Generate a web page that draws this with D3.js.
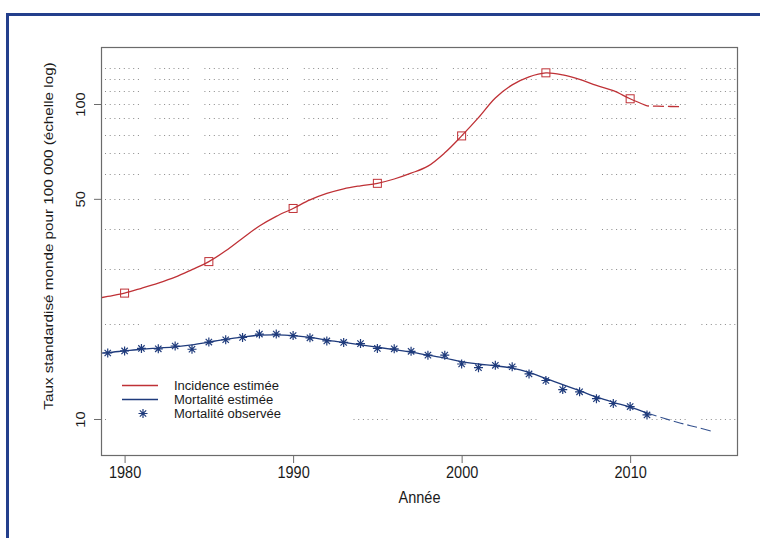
<!DOCTYPE html>
<html>
<head>
<meta charset="utf-8">
<script src="https://cdn.jsdelivr.net/npm/d3@7/dist/d3.min.js"></script>
<style>
  html, body { margin: 0; padding: 0; background: #fff; }
  svg { display: block; font-family: "Liberation Sans", Arial, Helvetica, sans-serif; }
</style>
</head>
<body>
<div id="chart"></div>
<script>
// Incidence and mortality, world-standardised rates per 100 000 (log scale)
const xTicks = [1980, 1990, 2000, 2010];
const yTicks = [10, 50, 100];
const gridValues = [10, 20, 30, 40, 50, 60, 70, 80, 90, 100, 110, 120, 130];

// Estimated incidence (smoothed), 1978-2011
const incYears = [1978, 1979, 1980, 1981, 1982, 1983, 1984, 1985, 1986, 1987, 1988, 1989,
  1990, 1991, 1992, 1993, 1994, 1995, 1996, 1997, 1998, 1999, 2000, 2001, 2002, 2003,
  2004, 2005, 2006, 2007, 2008, 2009, 2010, 2011];
const incEst = [23.9, 24.5, 25.1, 26.0, 27.0, 28.2, 29.8, 31.6, 34.2, 37.5, 41.0, 44.0,
  46.6, 49.6, 52.0, 53.8, 55.0, 56.0, 57.8, 60.3, 63.5, 70.0, 79.2, 90.5, 104.5, 115.0,
  122.0, 125.6, 123.8, 119.8, 114.5, 110.3, 103.9, 98.6];
// Incidence at the five-year marks
const incMarkYears = [1980, 1985, 1990, 1995, 2000, 2005, 2010];
const incMarks = [25.1, 31.6, 46.6, 56.0, 79.2, 125.6, 103.9];
// Projected incidence
const incProjYears = [2011, 2012, 2013];
const incProj = [98.6, 98.3, 98.1];

// Estimated mortality (smoothed), 1978-2011
const mortYears = incYears;
const mortEst = [16.1, 16.25, 16.45, 16.65, 16.8, 16.95, 17.2, 17.55, 17.9, 18.2, 18.45, 18.5,
  18.4, 18.15, 17.8, 17.5, 17.2, 16.9, 16.6, 16.3, 15.95, 15.6, 15.2, 14.95, 14.75, 14.5,
  14.05, 13.45, 12.85, 12.3, 11.75, 11.3, 10.9, 10.45];
// Observed mortality, 1979-2011
const mortObsYears = [1979, 1980, 1981, 1982, 1983, 1984, 1985, 1986, 1987, 1988, 1989,
  1990, 1991, 1992, 1993, 1994, 1995, 1996, 1997, 1998, 1999, 2000, 2001, 2002, 2003,
  2004, 2005, 2006, 2007, 2008, 2009, 2010, 2011];
const mortObs = [16.2, 16.45, 16.75, 16.7, 17.05, 16.65, 17.55, 17.85, 18.15, 18.6, 18.6,
  18.4, 18.1, 17.7, 17.5, 17.35, 16.75, 16.7, 16.4, 15.95, 15.95, 14.95, 14.55, 14.8, 14.65,
  13.9, 13.25, 12.4, 12.2, 11.6, 11.2, 10.95, 10.3];
// Projected mortality
const mortProjYears = [2011, 2012, 2013, 2014, 2015];
const mortProj = [10.45, 10.05, 9.7, 9.4, 9.1];

const legendItems = ["Incidence estimée", "Mortalité estimée", "Mortalité observée"];

const W = 760, H = 538;
const plot = { left: 101, right: 738, top: 47, bottom: 456 };
const red = "#bf3136", navy = "#1f3b7c", textCol = "#1a1a1a", axisCol = "#6b6b6b";
const stretch = 1.13;   // axis text is drawn slightly tall and narrow

const svg = d3.select("#chart").append("svg").attr("width", W).attr("height", H);
svg.append("rect").attr("width", W).attr("height", H).attr("fill", "#fff");

// outer frame
svg.append("rect")
  .attr("x", 7.5).attr("y", 14.5).attr("width", W + 20).attr("height", H + 20)
  .attr("fill", "none").attr("stroke", "#233f8c").attr("stroke-width", 3);

const x = d3.scaleLinear().domain([1978.6, 2016.4]).range([plot.left, plot.right]);
const y = d3.scaleLog().domain([7.63, 151.7]).range([plot.bottom, plot.top]);

svg.append("clipPath").attr("id", "plotClip")
  .append("rect").attr("x", plot.left).attr("y", plot.top)
  .attr("width", plot.right - plot.left).attr("height", plot.bottom - plot.top);

// dotted grid rows, in short runs
const period = 49.7;
const dash = d3.range(7).map(() => "1,3.7").join(",") + ",1," + (period - 8 - 7 * 3.7).toFixed(2);
svg.append("g").selectAll("line").data(gridValues).join("line")
  .attr("x1", 105).attr("x2", plot.right - 1)
  .attr("y1", d => Math.round(y(d)) + 0.5).attr("y2", d => Math.round(y(d)) + 0.5)
  .attr("stroke", "#8a8a8a").attr("stroke-width", 1)
  .attr("stroke-dasharray", dash);

const g = svg.append("g").attr("clip-path", "url(#plotClip)");
const line = (xs, vs) => d3.line().curve(d3.curveCatmullRom.alpha(0.5))
  .x((d, i) => x(xs[i])).y(d => y(d))(vs);

// incidence
g.append("path").attr("d", line(incYears, incEst))
  .attr("fill", "none").attr("stroke", red).attr("stroke-width", 1.3);
g.append("path").attr("d", line(incProjYears, incProj))
  .attr("fill", "none").attr("stroke", red).attr("stroke-width", 1.3)
  .attr("stroke-dasharray", "11,4").attr("stroke-dashoffset", 9);
g.append("g").selectAll("rect").data(incMarks).join("rect")
  .attr("x", (d, i) => x(incMarkYears[i]) - 4).attr("y", d => y(d) - 4)
  .attr("width", 8).attr("height", 8)
  .attr("fill", "none").attr("stroke", red).attr("stroke-width", 1);

// mortality
g.append("path").attr("d", line(mortYears, mortEst))
  .attr("fill", "none").attr("stroke", navy).attr("stroke-width", 1.3);
g.append("path").attr("d", line(mortProjYears, mortProj))
  .attr("fill", "none").attr("stroke", "#34518e").attr("stroke-width", 1.1)
  .attr("stroke-dasharray", "10,4");

const star = (cx, cy, r) => {
  const a = r * 0.7071;
  return `M${cx - r},${cy}L${cx + r},${cy}M${cx},${cy - r}L${cx},${cy + r}` +
    `M${cx - a},${cy - a}L${cx + a},${cy + a}M${cx - a},${cy + a}L${cx + a},${cy - a}`;
};
g.append("g").selectAll("path").data(mortObs).join("path")
  .attr("d", (d, i) => star(x(mortObsYears[i]), y(d), 4.5))
  .attr("fill", "none").attr("stroke", navy).attr("stroke-width", 1.2);

// legend
const lg = svg.append("g");
lg.append("rect").attr("x", 107).attr("y", 366).attr("width", 231).attr("height", 66).attr("fill", "#fff");
const ly = [385.5, 399.5, 413.5];
lg.append("line").attr("x1", 122).attr("x2", 158).attr("y1", ly[0]).attr("y2", ly[0])
  .attr("stroke", red).attr("stroke-width", 1.3);
lg.append("line").attr("x1", 122).attr("x2", 158).attr("y1", ly[1]).attr("y2", ly[1])
  .attr("stroke", navy).attr("stroke-width", 1.3);
lg.append("path").attr("d", star(143, ly[2], 4.5)).attr("fill", "none")
  .attr("stroke", navy).attr("stroke-width", 1.2);
lg.selectAll("text").data(legendItems).join("text")
  .attr("transform", (d, i) => `translate(174,${ly[i]}) scale(1.06,1)`)
  .attr("dy", "0.36em")
  .attr("font-size", 12.3).attr("fill", textCol).text(d => d);

// plot box
svg.append("rect").attr("x", plot.left + 0.5).attr("y", plot.top + 0.5)
  .attr("width", plot.right - plot.left - 1).attr("height", plot.bottom - plot.top - 1)
  .attr("fill", "none").attr("stroke", axisCol).attr("stroke-width", 1.2);

// x axis
const xAxis = d3.axisBottom(x).tickValues(xTicks).tickFormat(d3.format("d")).tickSize(7);
const xg = svg.append("g").attr("transform", `translate(0,${plot.bottom})`).call(xAxis);
xg.select(".domain").remove();
xg.selectAll(".tick line").attr("stroke", axisCol);
xg.selectAll(".tick text")
  .attr("y", 0).attr("dy", "0.72em")
  .attr("transform", `translate(0,10) scale(1,${stretch})`)
  .attr("font-size", 14.5).attr("fill", textCol)
  .attr("font-family", "Liberation Sans, Arial, sans-serif");

// y axis
const yAxis = d3.axisLeft(y).tickValues(yTicks).tickFormat(d3.format("d")).tickSize(7);
const yg = svg.append("g").attr("transform", `translate(${plot.left},0)`).call(yAxis);
yg.select(".domain").remove();
yg.selectAll(".tick line").attr("stroke", axisCol);
yg.selectAll(".tick text")
  .attr("x", 0).attr("y", 0).attr("dy", 0)
  .attr("text-anchor", "middle")
  .attr("transform", `translate(-16,0) rotate(-90) scale(${stretch},1)`)
  .attr("font-size", 13).attr("fill", textCol)
  .attr("font-family", "Liberation Sans, Arial, sans-serif");

// axis titles
svg.append("text")
  .attr("transform", `translate(${(plot.left + plot.right) / 2},${503}) scale(1,${stretch})`)
  .attr("text-anchor", "middle").attr("font-size", 14.5).attr("fill", textCol).text("Année");
svg.append("text")
  .attr("transform", `translate(53,236) rotate(-90) scale(${stretch},1)`)
  .attr("text-anchor", "middle").attr("font-size", 13.5).attr("fill", textCol)
  .text("Taux standardisé monde pour 100 000 (échelle log)");
</script>
</body>
</html>
